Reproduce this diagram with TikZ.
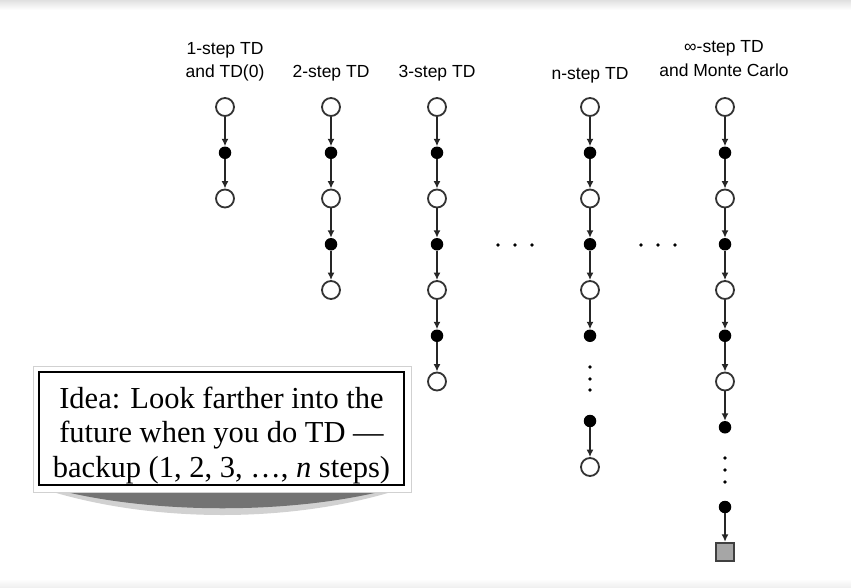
\documentclass[tikz,border=0pt]{standalone}
\usepackage{fontspec}
\setmainfont{Liberation Serif}
\setsansfont{Liberation Sans}
\usetikzlibrary{arrows.meta}

\begin{document}
\begin{tikzpicture}[x=1pt,y=-1pt,
    st/.style={circle,draw=black!80,line width=1.8pt,fill=white,minimum size=18pt,inner sep=0pt},
    act/.style={circle,fill=black,minimum size=12.5pt,inner sep=0pt},
    term/.style={rectangle,draw=black!75,line width=1.8pt,fill=black!35,minimum size=18.5pt,inner sep=0pt},
    pt/.style={circle,fill=black,minimum size=3.8pt,inner sep=0pt},
    lbl/.style={font=\sffamily\fontsize{17.5}{20}\selectfont,anchor=base,inner sep=0pt},
    arr/.style={draw=black!85,line width=1.5pt,-{Latex[length=7.5pt,width=7pt]}}]
    \useasboundingbox (0,0) rectangle (851,587);
    \shade[top color=black!12,bottom color=white] (0,0) rectangle (851,10);
    \shade[top color=white,bottom color=black!6] (0,579) rectangle (851,587);

    \node[lbl] (l1) at (225,54) {1-step TD};
    \node[lbl] (l1b) at (225,77) {and TD(0)};
    \node[lbl] (l2) at (331,77) {2-step TD};
    \node[lbl] (l3) at (437,77) {3-step TD};
    \node[lbl] (ln) at (590,79) {n-step TD};
    \node[lbl] (lm) at (724,52) {∞-step TD};
    \node[lbl] (lmb) at (724,76) {and Monte Carlo};

    \foreach \c/\x/\m in {a/225/2,b/331/4,c/437/6,n/590/5,m/725/7}{
      \foreach \i in {0,...,\m}{
        \ifodd\i\relax
          \node[act] (\c\i) at (\x,107+45.75*\i) {};
        \else
          \node[st] (\c\i) at (\x,107+45.75*\i) {};
        \fi
      }
      \foreach \i [remember=\i as \j (initially 0)] in {1,...,\m}
        \draw[arr] (\c\j) -- (\c\i);
    }

    \node[act] (n6) at (590,421) {};
    \node[st] (n7) at (590,467) {};
    \draw[arr] (n6) -- (n7);
    \node[act] (m8) at (725,507) {};
    \node[term] (m9) at (725,552) {};
    \draw[arr] (m8) -- (m9);

    \foreach \y [count=\k] in {367,379,390}
      \node[pt] (nv\k) at (590,\y) {};
    \foreach \y [count=\k] in {458,470,482}
      \node[pt] (mv\k) at (725,\y) {};
    \foreach \x [count=\k] in {498,515,532,641,658,675}
      \node[pt] (h\k) at (\x,245) {};

    \fill[black!18] (40,488) .. controls (150,524) and (295,524) .. (404,488) -- cycle;
    \fill[black!55] (50,488) .. controls (150,515) and (295,515) .. (395,488) -- cycle;
    \draw[black!18,fill=white,line width=0.6pt] (33,366) rectangle (411,492);
    \node[draw,line width=2.8pt,fill=white,inner sep=0pt,minimum width=365pt,
      minimum height=113pt] (idea) at (221.5,428.5) {};
    \node[align=center,inner sep=0pt,font=\fontsize{30.5}{34.5}\selectfont]
      (ideatxt) at (221.5,435) {Idea: Look farther into the\\future when you do TD ---\\backup (1, 2, 3, \dots, \textit{n} steps)};
\end{tikzpicture}
\end{document}
